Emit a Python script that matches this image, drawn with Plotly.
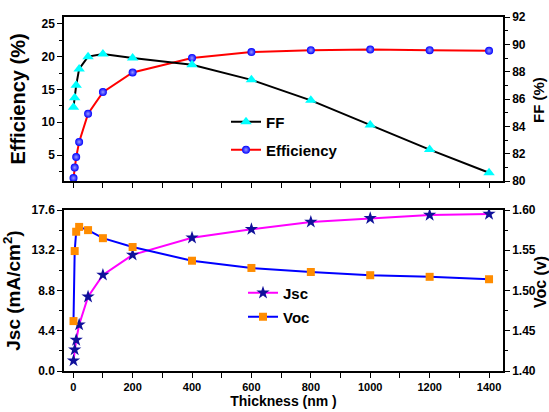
import plotly.graph_objects as go

thickness = [1, 5, 10, 20, 50, 100, 200, 400, 600, 800, 1000, 1200, 1400]
efficiency = [1.5, 3.1, 4.7, 7.0, 11.3, 14.6, 17.6, 19.8, 20.7, 21.0, 21.1, 21.0, 20.9]
ff = [85.4, 86.1, 87.0, 88.2, 89.1, 89.3, 89.0, 88.5, 87.4, 85.9, 84.1, 82.3, 80.6]
jsc = [1.13, 2.33, 3.39, 5.06, 8.12, 10.5, 12.7, 14.57, 15.5, 16.3, 16.7, 17.05, 17.16]
voc = [1.462, 1.549, 1.573, 1.579, 1.575, 1.565, 1.554, 1.537, 1.528, 1.523, 1.519, 1.517, 1.514]

x_ticks = [0, 200, 400, 600, 800, 1000, 1200, 1400]

NARROW = "Liberation Sans Narrow, Arial Narrow, Liberation Sans, Arial"
SANS = "Liberation Sans, Arial"

fig = go.Figure()

fig.add_trace(go.Scatter(
    x=thickness, y=efficiency, name="Efficiency", xaxis="x", yaxis="y",
    mode="lines+markers", line=dict(color="#ff0000", width=2),
    marker=dict(symbol="circle", size=8, color="#0000ff",
                gradient=dict(type="radial", color="#9999ff"),
                line=dict(width=0)),
    legend="legend2", showlegend=True))
fig.add_trace(go.Scatter(
    x=thickness, y=ff, name="FF", xaxis="x", yaxis="y2",
    mode="lines+markers", line=dict(color="#000000", width=2),
    marker=dict(symbol="triangle-up", size=10, color="#00ffff", line=dict(width=0)),
    legend="legend", showlegend=True))
fig.add_trace(go.Scatter(
    x=thickness, y=jsc, name="Jsc", xaxis="x2", yaxis="y3",
    mode="lines+markers", line=dict(color="#ff00ff", width=2),
    marker=dict(symbol="star", size=10, color="#10109a", line=dict(width=0)),
    legend="legend3", showlegend=True))
fig.add_trace(go.Scatter(
    x=thickness, y=voc, name="Voc", xaxis="x2", yaxis="y4",
    mode="lines+markers", line=dict(color="#0000ff", width=2),
    marker=dict(symbol="square", size=8, color="#ff8c00", line=dict(width=0)),
    legend="legend4", showlegend=True))

W, H = 549, 412
L, R, T, B = 64, 46, 17, 41
pw, ph = W - L - R, H - T - B

def px_x(p):
    return (p - L) / pw

def px_y(p):
    return (H - B - p) / ph

tickfont = dict(family=NARROW, size=12, color="black", weight="bold")
xtickfont = dict(family=NARROW, size=11, color="black", weight="bold")
common = dict(showline=True, linecolor="black", linewidth=1.5, ticks="outside",
              ticklen=5, tickwidth=1.2, tickcolor="black", showgrid=False,
              zeroline=False, automargin=False)

xrange = [-31, 1447]
top_dom = [px_y(181), 1.0]
bot_dom = [0.0, px_y(210)]

fig.update_layout(
    width=W, height=H, margin=dict(l=L, r=R, t=T, b=B, autoexpand=False),
    paper_bgcolor="white", plot_bgcolor="white", showlegend=True,
    xaxis=dict(domain=[0, 1], anchor="y", range=xrange, showticklabels=False,
               tickvals=[0, 100, 200, 300, 400, 500, 600, 700, 800, 900, 1000, 1100, 1200, 1300, 1400],
               mirror=True, **common),
    yaxis=dict(domain=top_dom, anchor="x", range=[1.05, 26.05], tick0=0, dtick=5,
               tickfont=tickfont,
               minor=dict(ticks="outside", ticklen=3, dtick=2.5, tick0=0, tickcolor="black"),
               title=dict(text="Efficiency (%)", font=dict(family=SANS, size=20, color="black", weight="bold"), standoff=10),
               **common),
    yaxis2=dict(overlaying="y", anchor="x", side="right", range=[80, 92], dtick=2,
                tickfont=tickfont,
                minor=dict(ticks="outside", ticklen=3, dtick=1, tickcolor="black"),
                **common),
    xaxis2=dict(domain=[0, 1], anchor="y3", range=xrange, tickvals=x_ticks,
                tickfont=xtickfont, mirror=True,
                minor=dict(ticks="outside", ticklen=5, dtick=100, tick0=0, tickcolor="black"),
                title=dict(text="Thickness (nm )", font=dict(family=SANS, size=14, color="black", weight="bold"), standoff=2),
                **common),
    yaxis3=dict(domain=bot_dom, anchor="x2", range=[0, 17.6], tickvals=[0, 4.4, 8.8, 13.2, 17.6],
                ticktext=["0.0", "4.4", "8.8", "13.2", "17.6"], tickfont=tickfont,
                minor=dict(ticks="outside", ticklen=3, tickvals=[2.2, 6.6, 11.0, 15.4], tickcolor="black"),
                title=dict(text="Jsc (mA/cm<sup>2</sup>)", font=dict(family=SANS, size=19, color="black", weight="bold"), standoff=6),
                **common),
    yaxis4=dict(overlaying="y3", anchor="x2", side="right", range=[1.40, 1.60], dtick=0.05,
                tickformat=".2f", tickfont=tickfont,
                minor=dict(ticks="outside", ticklen=3, dtick=0.025, tickcolor="black"),
                **common),
    annotations=[
        dict(text="FF (%)", xref="paper", yref="paper", x=px_x(538), y=px_y(100),
             xanchor="center", yanchor="middle", textangle=-90, showarrow=False,
             font=dict(family=SANS, size=15, color="black", weight="bold")),
        dict(text="Voc (v)", xref="paper", yref="paper", x=px_x(540), y=px_y(282),
             xanchor="center", yanchor="middle", textangle=-90, showarrow=False,
             font=dict(family=SANS, size=16, color="black", weight="bold")),
    ],
)

legfont = dict(family=SANS, size=15, color="black", weight="bold")
def leg(xp, yp):
    return dict(x=px_x(xp), y=px_y(yp), xanchor="left", yanchor="middle",
                bgcolor="rgba(0,0,0,0)", borderwidth=0, font=legfont,
                itemwidth=30, tracegroupgap=0, visible=True)

fig.update_layout(
    legend=leg(226, 122),
    legend2=leg(226, 150),
    legend3=leg(243, 293),
    legend4=leg(243, 317),
)

fig.write_html("out.html")
